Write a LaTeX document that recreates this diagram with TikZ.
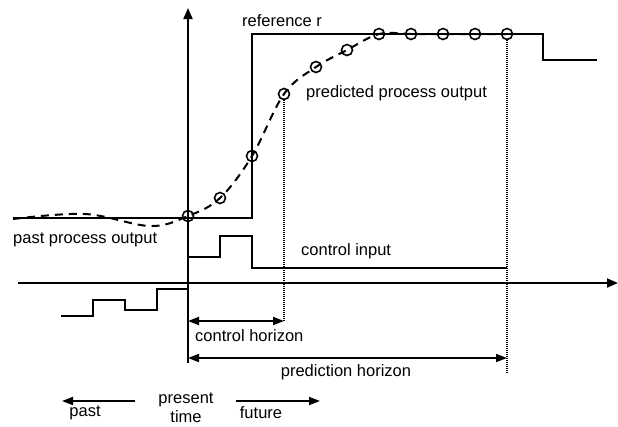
\documentclass[tikz,border=0pt]{standalone}
\usepackage{fontspec}
\setmainfont{Liberation Sans}
\usetikzlibrary{arrows.meta}
\begin{document}
\begin{tikzpicture}[x=1pt,y=-1pt,
  lbl/.style={inner sep=0pt,font=\fontsize{16.5}{19}\selectfont},
  thk/.style={line width=2pt},
  axis/.style={line width=1.8pt,-{Triangle[length=11pt,width=9pt]}},
  harrow/.style={line width=1.8pt,{Triangle[length=11pt,width=8pt]}-{Triangle[length=11pt,width=8pt]}},
  tarrow/.style={line width=1.8pt,-{Triangle[length=11pt,width=8pt]}},
  dotln/.style={line width=1.2pt,dash pattern=on 1pt off 1pt},
  pred/.style={circle,draw,line width=1.6pt,minimum size=11pt,inner sep=0pt},
  dsh/.style={line width=2pt,dash pattern=on 8pt off 6pt}]
\useasboundingbox (0,0) rectangle (618,426);
% axes
\coordinate (yb) at (188,363);
\coordinate (yt) at (188,8);
\coordinate (xl) at (18,283);
\coordinate (xr) at (618,283);
\draw[axis] (yb) -- (yt);
\draw[axis] (xl) -- (xr);
% reference
\coordinate (r0) at (13,218);
\coordinate (r1) at (252,218);
\coordinate (r2) at (252,34);
\coordinate (r3) at (543,34);
\coordinate (r4) at (543,60);
\coordinate (r5) at (597,60);
\draw[thk] (r0) -- (r1) -- (r2) -- (r3) -- (r4) -- (r5);
% predicted points
\foreach \i/\x/\y in {0/188/216,1/220/198,2/252/156,3/284/94,4/316/67,5/347/50,6/379/34,7/411/34,8/443/34,9/475/34,10/507/34}
  \node[pred] (c\i) at (\x,\y) {};
\draw[dsh] plot[smooth,tension=0.6] coordinates {(13,219) (85,214) (150,226) (188,216) (220,198) (252,156) (284,94) (316,67) (347,50) (379,34) (411,34) (443,34) (475,34) (507,34)};
% control input
\coordinate (u0) at (188,257);
\coordinate (u1) at (220,257);
\coordinate (u2) at (220,236);
\coordinate (u3) at (252,236);
\coordinate (u4) at (252,268);
\coordinate (u5) at (507,268);
\draw[thk] (u0) -- (u1) -- (u2) -- (u3) -- (u4) -- (u5);
% past control input
\coordinate (p0) at (61,316);
\coordinate (p1) at (93,316);
\coordinate (p2) at (93,300);
\coordinate (p3) at (125,300);
\coordinate (p4) at (125,310);
\coordinate (p5) at (157,310);
\coordinate (p6) at (157,289);
\coordinate (p7) at (188,289);
\draw[thk] (p0) -- (p1) -- (p2) -- (p3) -- (p4) -- (p5) -- (p6) -- (p7);
% dotted horizon markers
\coordinate (ch) at (284,322);
\coordinate (ph) at (507,373);
\draw[dotln] (c3.south) -- (ch);
\draw[dotln] (c10.south) -- (ph);
% horizons
\coordinate (cha) at (188,321);
\coordinate (chb) at (284,321);
\coordinate (pha) at (188,358);
\coordinate (phb) at (507,358);
\draw[harrow] (cha) -- (chb);
\draw[harrow] (pha) -- (phb);
% labels
\node[lbl,anchor=west] (tref) at (242,21) {reference r};
\node[lbl,anchor=west] (tpred) at (306,93) {predicted process output};
\node[lbl,anchor=west] (tpast) at (13,240) {past process output};
\node[lbl,anchor=west] (tcin) at (301,251) {control input};
\node[lbl,anchor=west] (tch) at (195,336) {control horizon};
\node[lbl] (tph) at (346,372) {prediction horizon};
\node[lbl,align=center] (tnow) at (186,408) {present\\time};
\node[lbl] (tpst) at (85,413) {past};
\node[lbl] (tfut) at (261,413) {future};
% time arrows
\coordinate (pa) at (135,401);
\coordinate (pb) at (62,401);
\coordinate (fa) at (236,401);
\coordinate (fb) at (320,401);
\draw[tarrow] (pa) -- (pb);
\draw[tarrow] (fa) -- (fb);
\end{tikzpicture}
\end{document}
